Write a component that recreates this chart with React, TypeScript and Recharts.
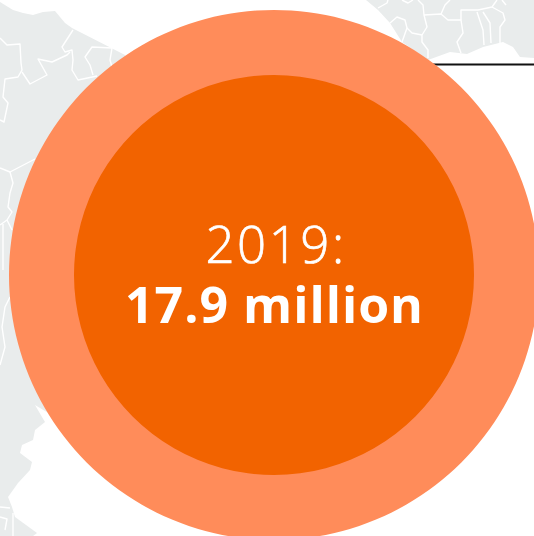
import React from "react";
import { PieChart, Pie, Cell } from "recharts";

const W = 534;
const H = 536;
const bubbleLabels = ["outer", "2019"];
const bubbleValues = [31.4, 17.9];
const bubbleColours = ["#FF8C5A", "#F26300"];
const headline = "2019:";
const headlineValue = "17.9 million";

// Decorative backdrop map (not data): land shapes and internal borders
const land = [
  "M0,2 L13,10 L23,13 L33,15 L43,12 L55,11 L65,23 L72,28 L125,55 L200,200 L60,420 L35,405 L42,417 L45,422 L35,430 L33,440 L22,445 L20,453 L32,462 L30,470 L18,483 L8,497 L12,507 L15,517 L37,533 L33,536 L0,536 Z",
  "M366,0 L378,10 L390,23 L402,42 L428,60 L450,52 L467,54 L483,47 L503,42 L513,47 L520,57 L534,58 L534,0 Z",
];
const borders = [
  "M73,30 L62,47 L65,52 L72,50 L73,60 L72,70 L78,80 L97,76",
  "M0,38 L7,45 L20,44 L21,63 L22,70 L18,77 L5,79 L3,97 L8,103 L4,122 L0,120",
  "M22,72 L30,84 L47,75 L38,59 L52,62 L67,55 L70,52",
  "M112,48 L92,47 L85,57 L90,65 L93,75",
  "M112,48 L110,60 L112,67",
  "M0,168 L10,172 L35,159",
  "M10,172 L13,183 L10,193 L8,207 L12,212 L7,220 L0,225",
  "M7,220 L12,230",
  "M3,224 L3,270",
  "M10,297 L5,307 L2,327 L5,347 L0,365",
  "M378,8 L387,3 L388,0",
  "M390,23 L397,17 L405,20 L407,28 L402,42",
  "M407,28 L412,33 L422,35 L422,42 L428,50 L428,58",
  "M422,35 L427,27 L424,15 L423,5 L418,0",
  "M424,15 L441,14 L448,20 L461,20 L463,33 L457,42 L461,53",
  "M441,14 L445,5 L450,0",
  "M461,20 L461,10 L478,10 L492,7 L497,0",
  "M477,12 L483,30 L484,45",
  "M483,12 L490,23 L491,43",
  "M492,7 L503,13 L505,20 L500,27 L500,43",
  "M402,0 L408,3 L413,0",
  "M502,0 L506,5",
  "M0,507 L10,508",
  "M13,513 L13,536",
  "M0,517 L7,519 L5,530",
];

export default function App() {
  const font = "'Open Sans', sans-serif";
  return (
    <div style={{ position: "absolute", left: 0, top: 0, width: W, height: H, background: "#fff", overflow: "hidden" }}>
      <svg width={W} height={H} style={{ position: "absolute", left: 0, top: 0 }}>
        {land.map((d, i) => <path key={i} d={d} fill="#E9ECEC" />)}
        {borders.map((d, i) => (
          <path key={i} d={d} fill="none" stroke="#fff" strokeWidth={1.4} strokeLinejoin="round" />
        ))}
        <line x1={432} x2={534} y1={64.5} y2={64.5} stroke="#111" strokeWidth={2} />
      </svg>
      <div style={{ position: "absolute", left: 0, top: 0 }}>
        <PieChart width={W} height={H} margin={{ top: 0, right: 0, bottom: 0, left: 0 }}>
          {bubbleValues.map((v, i) => (
            <Pie
              key={bubbleLabels[i]}
              data={[{ name: bubbleLabels[i], value: v }]}
              dataKey="value"
              nameKey="name"
              cx={274}
              cy={275}
              innerRadius={0}
              outerRadius={i === 0 ? 265 : 200}
              startAngle={90}
              endAngle={-270}
              stroke="none"
              isAnimationActive={false}
              legendType="none"
            >
              <Cell fill={bubbleColours[i]} />
            </Pie>
          ))}
        </PieChart>
      </div>
      <svg width={W} height={H} style={{ position: "absolute", left: 0, top: 0 }}>
        <text x={276} y={263} textAnchor="middle" fill="#fff" stroke="#fff" strokeWidth={0.7} fontFamily={font} fontWeight={300} fontSize={51} letterSpacing={2.5}>
          {headline}
        </text>
        <text x={274.5} y={323} textAnchor="middle" fill="#fff" fontFamily={font} fontWeight={700} fontSize={50} letterSpacing={1}>
          {headlineValue}
        </text>
      </svg>
    </div>
  );
}
